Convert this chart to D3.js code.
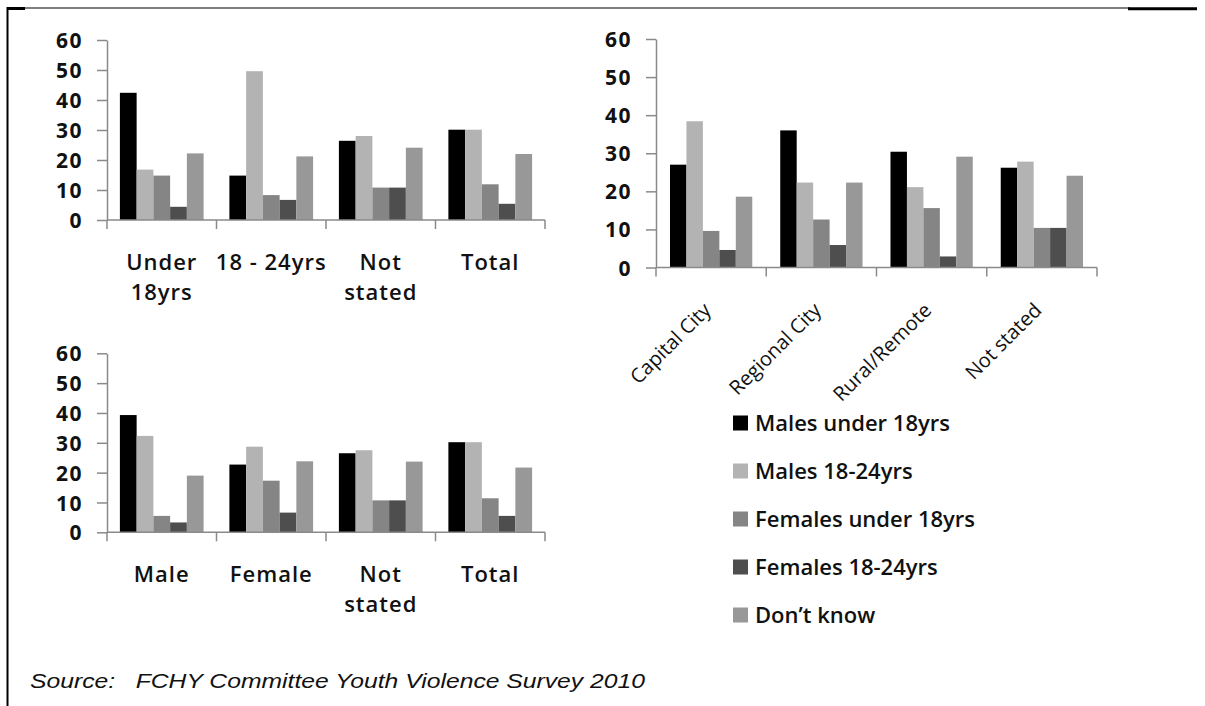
<!DOCTYPE html>
<html>
<head>
<meta charset="utf-8">
<script src="https://cdn.jsdelivr.net/npm/d3@7/dist/d3.min.js"></script>
<style>
  html, body { margin: 0; padding: 0; background: #fff; }
  svg { display: block; }
</style>
</head>
<body>
<svg id="chart" width="1205" height="706"></svg>
<script>
// ---------- data ----------
const seriesNames = ["Males under 18yrs", "Males 18-24yrs", "Females under 18yrs", "Females 18-24yrs", "Don\u2019t know"];
const seriesColors = ["#000000", "#b3b3b3", "#858585", "#4e4e4e", "#989898"];
const yTicks = [0, 10, 20, 30, 40, 50, 60];

// Chart 1: by age group
const ageCategories = [["Under", "18yrs"], ["18 - 24yrs"], ["Not", "stated"], ["Total"]];
const ageMalesUnder18 = [42.4, 14.8, 26.4, 30.1];
const ageMales1824 = [16.8, 49.6, 28.0, 30.1];
const ageFemalesUnder18 = [14.8, 8.3, 10.8, 11.9];
const ageFemales1824 = [4.4, 6.7, 10.8, 5.4];
const ageDontKnow = [22.2, 21.2, 24.1, 22.0];

// Chart 2: by location
const locCategories = ["Capital City", "Regional City", "Rural/Remote", "Not stated"];
const locMalesUnder18 = [27.0, 36.0, 30.4, 26.2];
const locMales1824 = [38.4, 22.3, 21.1, 27.8];
const locFemalesUnder18 = [9.6, 12.6, 15.6, 10.4];
const locFemales1824 = [4.6, 5.9, 2.9, 10.4];
const locDontKnow = [18.6, 22.3, 29.1, 24.1];

// Chart 3: by gender
const genderCategories = [["Male"], ["Female"], ["Not", "stated"], ["Total"]];
const genMalesUnder18 = [39.3, 22.7, 26.5, 30.2];
const genMales1824 = [32.3, 28.7, 27.5, 30.2];
const genFemalesUnder18 = [5.5, 17.3, 10.7, 11.4];
const genFemales1824 = [3.3, 6.6, 10.7, 5.5];
const genDontKnow = [19.0, 23.8, 23.7, 21.7];

const sourceText = "Source:   FCHY Committee Youth Violence Survey 2010";

// ---------- drawing ----------
const svg = d3.select("#chart");
const FONT = "'Open Sans', 'Noto Sans', sans-serif";
const AXIS = "#8a8a8a";

function drawChart(opt) {
  const g = svg.append("g");
  const cats = opt.categories.map((c, i) => i);
  const x = d3.scaleBand().domain(cats).range([opt.x0, opt.x1]).paddingInner(0).paddingOuter(0);
  const xs = d3.scaleBand().domain(d3.range(seriesNames.length)).range([0, x.bandwidth()])
      .paddingInner(0).paddingOuter(opt.groupPad);
  const y = d3.scaleLinear().domain([0, 60]).range([opt.yBottom, opt.yTop]);

  // bars
  opt.series.forEach((vals, si) => {
    g.append("g").selectAll("rect").data(vals).join("rect")
      .attr("x", (d, i) => x(i) + xs(si))
      .attr("width", xs.bandwidth())
      .attr("y", d => y(d))
      .attr("height", d => y(0) - y(d))
      .attr("fill", seriesColors[si]);
  });

  // y axis
  const yAxis = d3.axisLeft(y).tickValues(yTicks).tickSize(10).tickSizeOuter(0).tickPadding(14);
  const ya = g.append("g").attr("transform", `translate(${opt.x0},0)`).call(yAxis);
  ya.select(".domain").attr("stroke", AXIS).attr("stroke-width", 1.5);
  ya.selectAll(".tick line").attr("stroke", AXIS).attr("stroke-width", 1.5);
  ya.selectAll(".tick text")
    .attr("font-family", FONT).attr("font-size", 21).attr("font-weight", 700)
    .attr("fill", "#111").attr("letter-spacing", 1.5)
    .attr("dy", "0.36em");

  // x axis line with category boundary ticks
  const bounds = d3.range(cats.length + 1).map(i => i < cats.length ? x(i) : opt.x1);
  g.append("line").attr("x1", opt.x0).attr("x2", opt.x1)
    .attr("y1", y(0)).attr("y2", y(0)).attr("stroke", AXIS).attr("stroke-width", 1.5);
  g.append("g").selectAll("line").data(bounds).join("line")
    .attr("x1", d => d).attr("x2", d => d)
    .attr("y1", y(0)).attr("y2", y(0) + 9)
    .attr("stroke", AXIS).attr("stroke-width", 1.5);

  // category labels
  if (opt.rotate) {
    g.append("g").selectAll("text").data(opt.categories).join("text")
      .attr("transform", (d, i) => `translate(${x(i) + x.bandwidth() / 2 + 1},${y(0) + 44}) rotate(-45)`)
      .attr("text-anchor", "end")
      .attr("font-family", FONT).attr("font-size", 20)
      .attr("fill", "#111")
      .text(d => d);
  } else {
    const t = g.append("g").selectAll("text").data(opt.categories).join("text")
      .attr("x", (d, i) => x(i) + x.bandwidth() / 2)
      .attr("y", y(0) + 50)
      .attr("text-anchor", "middle")
      .attr("font-family", FONT).attr("font-size", 22).attr("font-weight", 600)
      .attr("letter-spacing", 1)
      .attr("fill", "#111");
    t.selectAll("tspan").data(d => d).join("tspan")
      .attr("x", function () { return d3.select(this.parentNode).attr("x"); })
      .attr("dy", (d, i) => i === 0 ? 0 : 30)
      .text(d => d);
  }
}

drawChart({
  categories: ageCategories,
  series: [ageMalesUnder18, ageMales1824, ageFemalesUnder18, ageFemales1824, ageDontKnow],
  x0: 107, x1: 545, yBottom: 220, yTop: 40, groupPad: 0.77
});

drawChart({
  categories: locCategories,
  series: [locMalesUnder18, locMales1824, locFemalesUnder18, locFemales1824, locDontKnow],
  x0: 656, x1: 1097, yBottom: 267.5, yTop: 39, groupPad: 0.85, rotate: true
});

drawChart({
  categories: genderCategories,
  series: [genMalesUnder18, genMales1824, genFemalesUnder18, genFemales1824, genDontKnow],
  x0: 107, x1: 545, yBottom: 532.3, yTop: 353.3, groupPad: 0.77
});

// legend
const legY = d3.scalePoint().domain(seriesNames).range([423, 615]);
const leg = svg.append("g").selectAll("g").data(seriesNames).join("g")
  .attr("transform", d => `translate(733,${legY(d)})`);
leg.append("rect").attr("x", 0).attr("y", -7.5).attr("width", 15).attr("height", 15)
  .attr("fill", (d, i) => seriesColors[i]);
leg.append("text").attr("x", 22).attr("y", 0).attr("dy", "0.35em")
  .attr("font-family", FONT).attr("font-size", 22).attr("font-weight", 600)
  .attr("fill", "#111").text(d => d);

// source
svg.append("text")
  .attr("x", 30).attr("y", 688)
  .style("white-space", "pre")
  .attr("xml:space", "preserve")
  .attr("font-family", "'Liberation Sans Narrow', 'Liberation Sans', Arial, sans-serif")
  .attr("font-style", "italic").attr("font-size", 21)
  .attr("textLength", 615).attr("lengthAdjust", "spacingAndGlyphs")
  .attr("fill", "#111").text(sourceText);

// frame lines
svg.append("line").attr("x1", 7.5).attr("x2", 7.5).attr("y1", 7).attr("y2", 706)
  .attr("stroke", "#000").attr("stroke-width", 2);
svg.append("line").attr("x1", 7).attr("x2", 1130).attr("y1", 8).attr("y2", 8)
  .attr("stroke", "#000").attr("stroke-width", 1.2);
svg.append("line").attr("x1", 7).attr("x2", 25).attr("y1", 8.5).attr("y2", 8.5)
  .attr("stroke", "#000").attr("stroke-width", 3);
svg.append("line").attr("x1", 1128).attr("x2", 1197).attr("y1", 8.8).attr("y2", 8.8)
  .attr("stroke", "#000").attr("stroke-width", 3);
</script>
</body>
</html>
